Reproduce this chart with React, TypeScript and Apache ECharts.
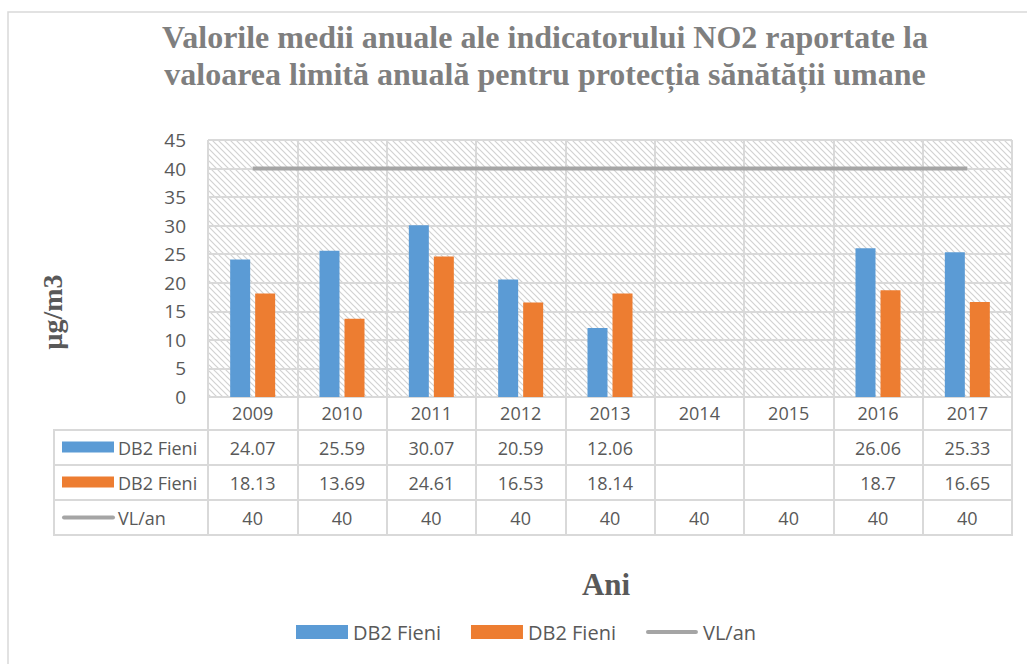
import React, { useEffect, useRef } from 'react';
import * as echarts from 'echarts';

const categories = ['2009', '2010', '2011', '2012', '2013', '2014', '2015', '2016', '2017'];
const seriesLabels = ['DB2 Fieni', 'DB2 Fieni', 'VL/an'];
const db2FieniA: (number | null)[] = [24.07, 25.59, 30.07, 20.59, 12.06, null, null, 26.06, 25.33];
const db2FieniB: (number | null)[] = [18.13, 13.69, 24.61, 16.53, 18.14, null, null, 18.7, 16.65];
const vlAn: number[] = [40, 40, 40, 40, 40, 40, 40, 40, 40];
const yMin = 0;
const yMax = 45;
const yStep = 5;

const titleText = 'Valorile medii anuale ale indicatorului NO2 raportate la\nvaloarea limită anuală pentru protecția sănătății umane';
const yName = 'µg/m3';
const xName = 'Ani';

const COLORS = ['#5b9bd5', '#ed7d31', '#a5a5a5'];
const GRID_COLOR = '#d9d9d9';
const TEXT_COLOR = '#595959';
const SANS = '"Open Sans", "Noto Sans", sans-serif';
const SERIF = '"Liberation Serif", "Times New Roman", serif';

function makeHatch() {
  const c = document.createElement('canvas');
  c.width = 6;
  c.height = 6;
  const ctx = c.getContext('2d')!;
  ctx.fillStyle = '#ffffff';
  ctx.fillRect(0, 0, 6, 6);
  ctx.strokeStyle = '#d2d2d2';
  ctx.lineWidth = 1.2;
  ctx.beginPath();
  ctx.moveTo(-1, -1); ctx.lineTo(7, 7);
  ctx.moveTo(5, -1); ctx.lineTo(7, 1);
  ctx.moveTo(-1, 5); ctx.lineTo(1, 7);
  ctx.stroke();
  return c;
}

export default function App() {
  const ref = useRef<HTMLDivElement>(null);

  useEffect(() => {
    if (!ref.current) return;
    const chart = echarts.init(ref.current, null, { renderer: 'svg' });
    const hatch = makeHatch();
    const seriesIds = ['a', 'b', 'c'];
    const lineIcon = 'path://M2,0h48a2,2 0 0 1 0,4h-48a2,2 0 0 1 0,-4z';

    const option: any = {
      animation: false,
      backgroundColor: '#ffffff',
      title: {
        text: titleText,
        left: 540,
        top: 13,
        textAlign: 'center',
        textStyle: {
          fontFamily: SERIF,
          fontWeight: 'bold',
          fontSize: 32,
          lineHeight: 37,
          color: '#7f7f7f',
        },
      },
      legend: {
        left: 291,
        top: 617,
        itemWidth: 52,
        itemHeight: 14,
        itemGap: 30,
        symbolKeepAspect: true,
        data: seriesIds.map((id, i) =>
          i === 2
            ? { name: seriesLabels[i] + '#' + id, icon: lineIcon }
            : { name: seriesLabels[i] + '#' + id, icon: 'rect' }
        ),
        formatter: (n: string) => n.split('#')[0],
        textStyle: { fontFamily: SANS, fontSize: 20, color: TEXT_COLOR },
        selectedMode: false,
      },
      grid: {
        left: 208,
        right: 15,
        top: 140,
        bottom: 267,
        show: true,
        borderWidth: 0,
        backgroundColor: { image: hatch, repeat: 'repeat', imageWidth: 6, imageHeight: 6 },
      },
      xAxis: {
        type: 'category',
        data: categories,
        boundaryGap: true,
        name: xName,
        nameLocation: 'middle',
        nameGap: 172,
        nameTextStyle: { fontFamily: SERIF, fontWeight: 'bold', fontSize: 31, color: TEXT_COLOR, padding: [0, 8, 0, 0] },
        axisLine: { show: true, lineStyle: { color: GRID_COLOR, width: 2 } },
        axisTick: { show: true, interval: 0, length: 138, lineStyle: { color: GRID_COLOR, width: 2 } },
        axisLabel: { interval: 0, margin: 7, fontFamily: SANS, fontSize: 18, color: TEXT_COLOR },
        splitLine: { show: true, interval: 0, lineStyle: { color: GRID_COLOR, width: 2 } },
      },
      yAxis: {
        type: 'value',
        min: yMin,
        max: yMax,
        interval: yStep,
        axisLine: { show: false },
        axisTick: { show: false },
        axisLabel: { margin: 22, fontFamily: SANS, fontSize: 19, color: TEXT_COLOR },
        splitLine: { show: true, lineStyle: { color: GRID_COLOR, width: 2 } },
      },
      series: [
        {
          name: seriesLabels[0] + '#a',
          type: 'bar',
          data: db2FieniA,
          barWidth: 20,
          barGap: '25%',
          itemStyle: { color: COLORS[0] },
        },
        {
          name: seriesLabels[1] + '#b',
          type: 'bar',
          data: db2FieniB,
          barWidth: 20,
          barGap: '25%',
          itemStyle: { color: COLORS[1] },
        },
        {
          name: seriesLabels[2] + '#c',
          type: 'line',
          data: vlAn,
          symbol: 'none',
          showSymbol: false,
          lineStyle: { color: COLORS[2], width: 4 },
          itemStyle: { color: COLORS[2] },
          z: 5,
        },
      ],
    };

    chart.setOption(option);

    // Data table below the axis, built from the same arrays, positioned via the axis scale
    const xs = categories.map((_, i) => chart.convertToPixel({ xAxisIndex: 0 }, i) as number);
    const plotRight = chart.convertToPixel({ xAxisIndex: 0 }, categories.length - 1) as number;
    const colW = categories.length > 1 ? xs[1] - xs[0] : 89;
    const right = plotRight + colW / 2;
    const tableLeft = 54;
    const rowTops = [430, 465, 500];
    const rowH = 35;
    const rows = [db2FieniA, db2FieniB, vlAn];

    const g: any[] = [];
    g.push({
      type: 'rect', silent: true, z: -10,
      shape: { x: 8, y: 12, width: 1100, height: 700 },
      style: { fill: 'none', stroke: GRID_COLOR, lineWidth: 1.5 },
    });
    [430, 465, 500, 535].forEach((y) => {
      g.push({
        type: 'line', silent: true,
        shape: { x1: tableLeft, y1: y, x2: right + 1, y2: y },
        style: { stroke: GRID_COLOR, lineWidth: 2 },
      });
    });
    g.push({
      type: 'line', silent: true,
      shape: { x1: tableLeft, y1: 429, x2: tableLeft, y2: 536 },
      style: { stroke: GRID_COLOR, lineWidth: 2 },
    });
    rows.forEach((vals, r) => {
      const cy = rowTops[r] + rowH / 2;
      if (r < 2) {
        g.push({
          type: 'rect', silent: true,
          shape: { x: 62, y: cy - 6, width: 52, height: 11 },
          style: { fill: COLORS[r] },
        });
      } else {
        g.push({
          type: 'line', silent: true,
          shape: { x1: 64, y1: cy, x2: 113, y2: cy },
          style: { stroke: COLORS[2], lineWidth: 4, lineCap: 'round' },
        });
      }
      g.push({
        type: 'text', silent: true,
        x: 118, y: cy,
        style: {
          text: seriesLabels[r], fontFamily: SANS, fontSize: 18, fill: TEXT_COLOR,
          align: 'left', verticalAlign: 'middle',
        },
      });
      vals.forEach((v, i) => {
        if (v === null || v === undefined) return;
        g.push({
          type: 'text', silent: true,
          x: xs[i], y: cy,
          style: {
            text: String(v), fontFamily: SANS, fontSize: 18, fill: TEXT_COLOR,
            align: 'center', verticalAlign: 'middle',
          },
        });
      });
    });
    g.push({
      type: 'text', silent: true,
      x: 52, y: 312, rotation: Math.PI / 2,
      style: {
        text: yName, fontFamily: SERIF, fontWeight: 'bold', fontSize: 28, fill: TEXT_COLOR,
        align: 'center', verticalAlign: 'middle',
      },
    });

    chart.setOption({ graphic: g });

    return () => chart.dispose();
  }, []);

  return (
    <div
      ref={ref}
      style={{ position: 'absolute', left: 0, top: 0, width: 1027, height: 664 }}
    />
  );
}
